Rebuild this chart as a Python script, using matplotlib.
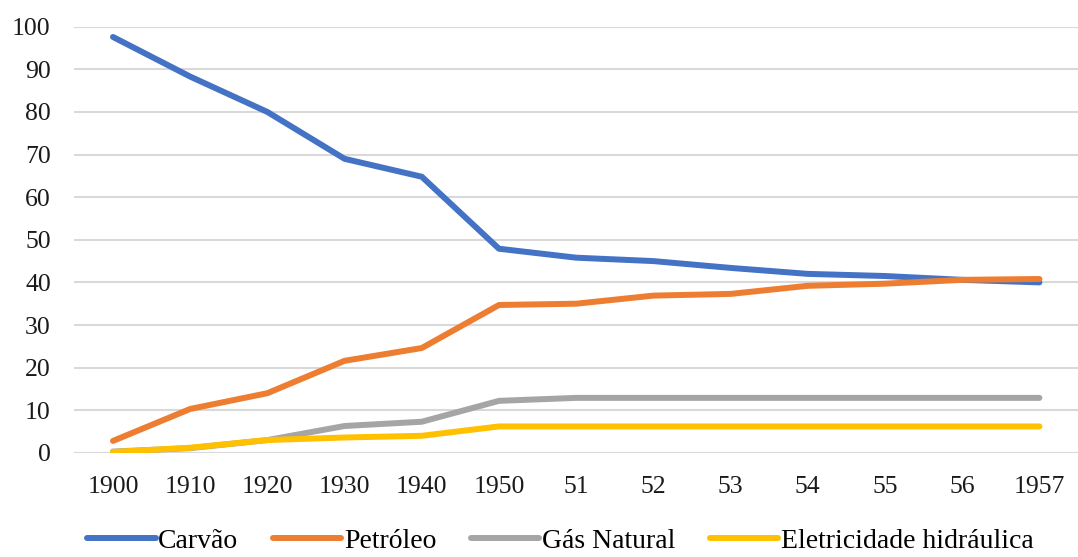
import matplotlib
matplotlib.use("Agg")
import matplotlib.pyplot as plt

categories = ["1900", "1910", "1920", "1930", "1940", "1950", "51", "52", "53", "54", "55", "56", "1957"]
carvao = [97.6, 88.3, 80.0, 69.0, 64.8, 47.9, 45.8, 45.0, 43.4, 42.0, 41.5, 40.6, 40.0]
petroleo = [2.8, 10.3, 14.0, 21.6, 24.6, 34.7, 35.0, 36.9, 37.3, 39.2, 39.7, 40.6, 40.8]
gas = [0.3, 1.1, 3.0, 6.3, 7.3, 12.2, 12.9, 12.9, 12.9, 12.9, 12.9, 12.9, 12.9]
eletricidade = [0.2, 1.2, 3.0, 3.6, 4.0, 6.2, 6.2, 6.2, 6.2, 6.2, 6.2, 6.2, 6.2]
series_names = ["Carvão", "Petróleo", "Gás Natural", "Eletricidade hidráulica"]
colors = ["#4472C4", "#ED7D31", "#A5A5A5", "#FFC000"]
yticks = [0, 10, 20, 30, 40, 50, 60, 70, 80, 90, 100]

plt.rcParams['font.family'] = ['Liberation Serif', 'DejaVu Serif']

fig = plt.figure(figsize=(10.78, 5.57), dpi=100)
ax = fig.add_axes([0.069, 0.187, 0.931, 0.765])
x = list(range(len(categories)))
for vals, name, c in zip([carvao, petroleo, gas, eletricidade], series_names, colors):
    ax.plot(x, vals, color=c, lw=4.3, label=name, solid_capstyle='round', solid_joinstyle='round')

ax.set_xlim(-0.5, len(categories) - 0.5)
ax.set_ylim(0, 100)
ax.set_yticks(yticks)
ax.set_xticks(x)
ax.set_xticklabels(categories)
ax.grid(axis='y', color='#d9d9d9', lw=1.5)
ax.set_axisbelow(True)
for s in ax.spines.values():
    s.set_visible(False)
ax.tick_params(axis='both', length=0, labelsize=18.5, labelcolor='#1a1a1a')
ax.tick_params(axis='x', pad=17)
ax.tick_params(axis='y', pad=17)

leg = fig.legend(loc='center', bbox_to_anchor=(0.520, 0.028), ncol=4, frameon=False,
                 fontsize=20, handlelength=2.45, columnspacing=1.25, handletextpad=0.1,
                 borderpad=0.1)
fig.savefig("out.png", dpi=100)
